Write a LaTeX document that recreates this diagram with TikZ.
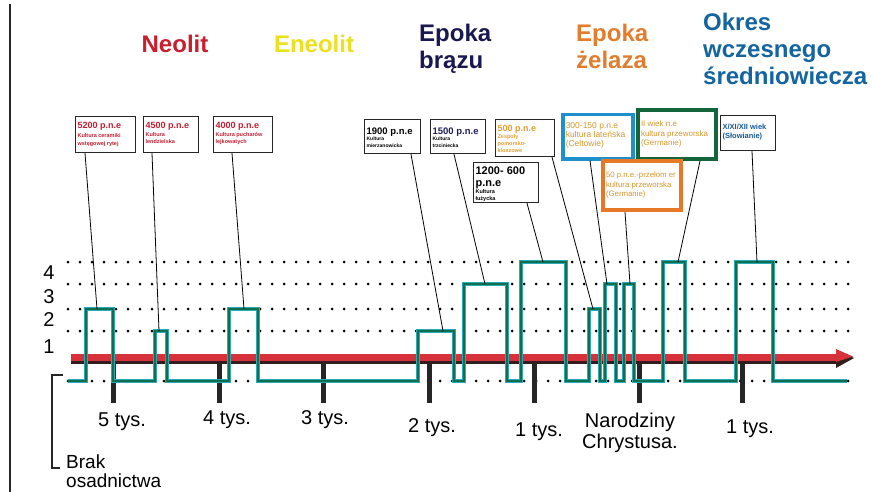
\documentclass[tikz,border=0pt]{standalone}
\usepackage{fontspec}
\setmainfont{Liberation Sans}
\definecolor{cneo}{RGB}{200,30,45}
\definecolor{ceneo}{RGB}{235,225,30}
\definecolor{cbrz}{RGB}{25,25,80}
\definecolor{czel}{RGB}{225,125,45}
\definecolor{cokr}{RGB}{20,100,160}
\definecolor{cbr}{RGB}{195,30,50}
\definecolor{cnavy}{RGB}{30,30,90}
\definecolor{corg}{RGB}{230,160,50}
\definecolor{corgt}{RGB}{215,150,45}
\definecolor{cblue}{RGB}{30,145,205}
\definecolor{cgreen}{RGB}{20,100,60}
\definecolor{corange}{RGB}{230,120,40}
\definecolor{cstep}{RGB}{20,110,75}
\definecolor{ccyan}{RGB}{40,170,190}
\definecolor{cred}{RGB}{215,50,60}
\definecolor{cdark}{RGB}{50,30,30}
\definecolor{cxtxt}{RGB}{20,90,150}
\newcommand\bxt[5]{\parbox[t][#2pt][t]{#1pt}{\color{#4}\raggedright\vspace*{#3pt}#5}}
\begin{document}
\begin{tikzpicture}[x=1pt,y=-1pt,
  ttl/.style={font=\bfseries\fontsize{24}{27}\selectfont, inner sep=0pt},
  lbl/.style={font=\fontsize{20}{21}\selectfont, inner sep=0pt},
  bx/.style={draw=black!85, line width=1.2pt, inner sep=2pt, anchor=north west, fill=white},
  bxb/.style={bx, draw=cblue, line width=3.5pt, inner sep=3pt},
  bxg/.style={bx, draw=cgreen, line width=4pt, inner sep=3pt},
  bxo/.style={bx, draw=corange, line width=4pt, inner sep=3pt},
  cn/.style={line width=0.8pt, draw=black},
  dotl/.style={line width=3pt, dash pattern=on 0pt off 12pt, line cap=round, draw=black},
  tmark/.style={line width=5pt, draw=black!85},
  stepu/.style={line width=3.2pt, draw=ccyan},
  stepg/.style={line width=1.8pt, draw=cstep},
  frame/.style={line width=1.5pt, draw=black!85},
]
\path[use as bounding box, clip] (0,0) rectangle (872,492);
\fill[white] (0,0) rectangle (872,492);

% left frame line and bracket
\draw[frame] (10,4) -- (10,492);
\draw[frame] (63,375) -- (52,375) -- (52,468) -- (60,468);

% titles
\node[ttl, text=cneo] (neolit) at (175,44) {Neolit};
\node[ttl, text=ceneo] (eneolit) at (314,44) {Eneolit};
\node[ttl, text=cbrz, align=left, anchor=north west] (braz) at (419,24) {Epoka\\brązu};
\node[ttl, text=czel, align=left, anchor=north west] (zel) at (576,24) {Epoka\\żelaza};
\node[ttl, text=cokr, align=left, anchor=north west] (okr) at (703,13) {Okres\\wczesnego\\średniowiecza};

% dotted level lines
\foreach \yy in {262,284,309,331,381} \draw[dotl] (68,\yy) -- (857,\yy);

% level labels
\node[lbl] (l4) at (49,273) {4};
\node[lbl] (l3) at (49,297) {3};
\node[lbl] (l2) at (49,320) {2};
\node[lbl] (l1) at (49,347) {1};

% ticks
\foreach \xx in {113,219,323,429,534,639,742} \draw[tmark] (\xx,360) -- (\xx,403);

% time arrow
\fill[cdark] (71,359) rectangle (838,363.5);
\fill[cred] (71,353.5) rectangle (838,360.5);
\fill[cdark] (836,350) -- (854,358) -- (836,368) -- cycle;
\fill[cred] (836,349) -- (853,356.5) -- (836,362) -- cycle;

% step line
\foreach \st in {stepu,stepg}
\draw[\st] (68,381) -- (86,381) -- (86,309) -- (113,309) -- (113,381) -- (155,381) -- (155,331) -- (167,331) -- (167,381)
 -- (229,381) -- (229,309) -- (258,309) -- (258,381) -- (418,381) -- (418,331) -- (454,331) -- (454,381)
 -- (464,381) -- (464,284) -- (507,284) -- (507,381) -- (521,381) -- (521,262) -- (566,262) -- (566,381)
 -- (589,381) -- (589,309) -- (600,309) -- (600,381) -- (605,381) -- (605,284) -- (616,284) -- (616,381)
 -- (624,381) -- (624,284) -- (634,284) -- (634,381) -- (663,381) -- (663,262) -- (685,262) -- (685,381)
 -- (736,381) -- (736,262) -- (773,262) -- (773,381) -- (847,381);

% step tops
\coordinate (t1) at (97,309);
\coordinate (t2) at (159,331);
\coordinate (t3) at (244,309);
\coordinate (t4) at (443,331);
\coordinate (t5) at (485,284);
\coordinate (t6) at (593,309);
\coordinate (t7) at (543,262);
\coordinate (t8) at (607,284);
\coordinate (t9) at (678,262);
\coordinate (t10) at (630,284);
\coordinate (t11) at (757,262);

% boxes
\node[bx] (b1) at (75,116) {\bxt{56}{32}{4}{cbr}{{\fontsize{9}{10}\selectfont\bfseries 5200 p.n.e\par}{\fontsize{5.5}{8.5}\selectfont\bfseries Kultura ceramiki\\wstęgowej rytej\par}}};
\node[bx] (b2) at (143,116) {\bxt{51}{32}{4}{cbr}{{\fontsize{9}{10}\selectfont\bfseries 4500 p.n.e\par}{\fontsize{5.5}{7.5}\selectfont\bfseries Kultura\\lendzielska\par}}};
\node[bx] (b3) at (213,116) {\bxt{55}{32}{4}{cbr}{{\fontsize{9}{10}\selectfont\bfseries 4000 p.n.e\par}{\fontsize{5.5}{7.5}\selectfont\bfseries Kultura pucharów\\lejkowatych\par}}};
\node[bx] (b4) at (364,119) {\bxt{52}{30}{6}{black}{{\fontsize{9.5}{10}\selectfont\bfseries 1900 p.n.e\par}{\fontsize{5}{6.5}\selectfont\bfseries Kultura\\mierzanowicka\par}}};
\node[bx] (b5) at (430,119) {\bxt{51}{30}{6}{cnavy}{{\fontsize{9.5}{10}\selectfont\bfseries 1500 p.n.e\par}{\color{black}\fontsize{5}{6.5}\selectfont\bfseries Kultura\\trzciniecka\par}}};
\node[bx] (b6) at (495,119) {\bxt{55}{33}{4}{corg}{{\fontsize{9}{10}\selectfont\bfseries 500 p.n.e\par}{\fontsize{5.5}{7}\selectfont\bfseries Zespoły\\pomorsko-\\kloszowe\par}}};
\node[bx] (b7) at (473,162) {\bxt{61}{36}{2}{black}{{\fontsize{11}{12}\selectfont\bfseries 1200- 600\\p.n.e\par}{\fontsize{5.5}{7}\selectfont\bfseries Kultura\\łużycka\par}}};
\node[bxb] (b8) at (561,113) {\bxt{64}{38}{5}{corgt}{{\fontsize{8.5}{9}\selectfont 300-150 p.n.e\\kultura lateńska\\(Celtowie)\par}}};
\node[bxg] (b9) at (636,108) {\bxt{72}{43}{8}{corgt}{{\fontsize{8}{9.5}\selectfont II wiek n.e\\kultura przeworska\\(Germanie)\par}}};
\node[bxo] (b10) at (601,159) {\bxt{72}{43}{8}{corgt}{{\fontsize{7.8}{9.5}\selectfont 50 p.n.e.-przełom er\\kultura przeworska\\(Germanie)\par}}};
\node[bx] (b11) at (720,115) {\bxt{51}{31}{6}{cxtxt}{{\fontsize{7.5}{9}\selectfont\bfseries X/XI/XII wiek\\(Słowianie)\par}}};

% connectors
\draw[cn] ([xshift=10pt]b1.south west) -- (t1);
\draw[cn] ([xshift=9pt]b2.south west) -- (t2);
\draw[cn] ([xshift=19pt]b3.south west) -- (t3);
\draw[cn] ([xshift=47pt]b4.south west) -- (t4);
\draw[cn] ([xshift=24pt]b5.south west) -- (t5);
\draw[cn] ([xshift=57pt]b6.south west) -- (t6);
\draw[cn] ([xshift=54pt]b7.south west) -- (t7);
\draw[cn] ([xshift=29pt]b8.south west) -- (t8);
\draw[cn] ([xshift=64pt]b9.south west) -- (t9);
\draw[cn] ([xshift=24pt]b10.south west) -- (t10);
\draw[cn] ([xshift=32pt]b11.south west) -- (t11);

% time labels
\node[lbl] (k5) at (122,422) {5 tys.};
\node[lbl] (k4) at (227,420) {4 tys.};
\node[lbl] (k3) at (325,420) {3 tys.};
\node[lbl] (k2) at (432,428) {2 tys.};
\node[lbl] (k1) at (539,432) {1 tys.};
\node[lbl, align=center] (nar) at (630,433) {Narodziny\\Chrystusa.};
\node[lbl] (kp1) at (750,429) {1 tys.};

\node[font=\fontsize{19}{19}\selectfont, inner sep=0pt, align=left, anchor=north west] (brak) at (66,455) {Brak\\osadnictwa};
\end{tikzpicture}
\end{document}
